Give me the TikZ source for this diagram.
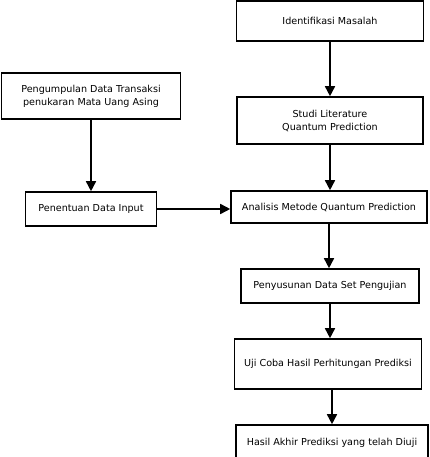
\documentclass[tikz,border=0pt]{standalone}
\usepackage{fontspec}
\setmainfont{DejaVu Sans}
\usetikzlibrary{arrows.meta}
\begin{document}
\begin{tikzpicture}[x=1pt,y=-1pt,
  box/.style={draw=black,line width=1.6pt,fill=white,align=center,inner sep=0pt,
    font=\fontsize{9.6}{13}\selectfont},
  flow/.style={line width=1.6pt,-{Triangle[length=10pt,width=10pt]}}]
\useasboundingbox (0,0) rectangle (429,457);
\clip (0,0) rectangle (429,457);
\node[box,minimum width=187pt,minimum height=40pt] (ident) at (330,21) {Identifikasi Masalah};
\node[box,minimum width=186pt,minimum height=47pt] (studi) at (330,120.5) {Studi Literature\\Quantum Prediction};
\node[box,minimum width=179pt,minimum height=46pt] (kumpul) at (91,96) {Pengumpulan Data Transaksi\\penukaran Mata Uang Asing};
\node[box,minimum width=131pt,minimum height=34pt] (input) at (91,209) {Penentuan Data Input};
\node[box,minimum width=196pt,minimum height=32pt] (analisis) at (329,207) {Analisis Metode Quantum Prediction};
\node[box,minimum width=178pt,minimum height=34pt] (susun) at (330,286) {Penyusunan Data Set Pengujian};
\node[box,minimum width=187pt,minimum height=50pt] (uji) at (328,364) {Uji Coba Hasil Perhitungan Prediksi};
\node[box,minimum width=192pt,minimum height=36pt] (hasil) at (332,443) {Hasil Akhir Prediksi yang telah Diuji};
\draw[flow] (ident.south) -- (ident.south |- studi.north);
\draw[flow] (studi.south) -- (studi.south |- analisis.north);
\draw[flow] (kumpul.south) -- (kumpul.south |- input.north);
\draw[flow] (input.east) -- (input.east -| analisis.west);
\draw[flow] (analisis.south) -- (analisis.south |- susun.north);
\draw[flow] (susun.south) -- (susun.south |- uji.north);
\draw[flow] (hasil.north |- uji.south) -- (hasil.north);
\end{tikzpicture}
\end{document}
